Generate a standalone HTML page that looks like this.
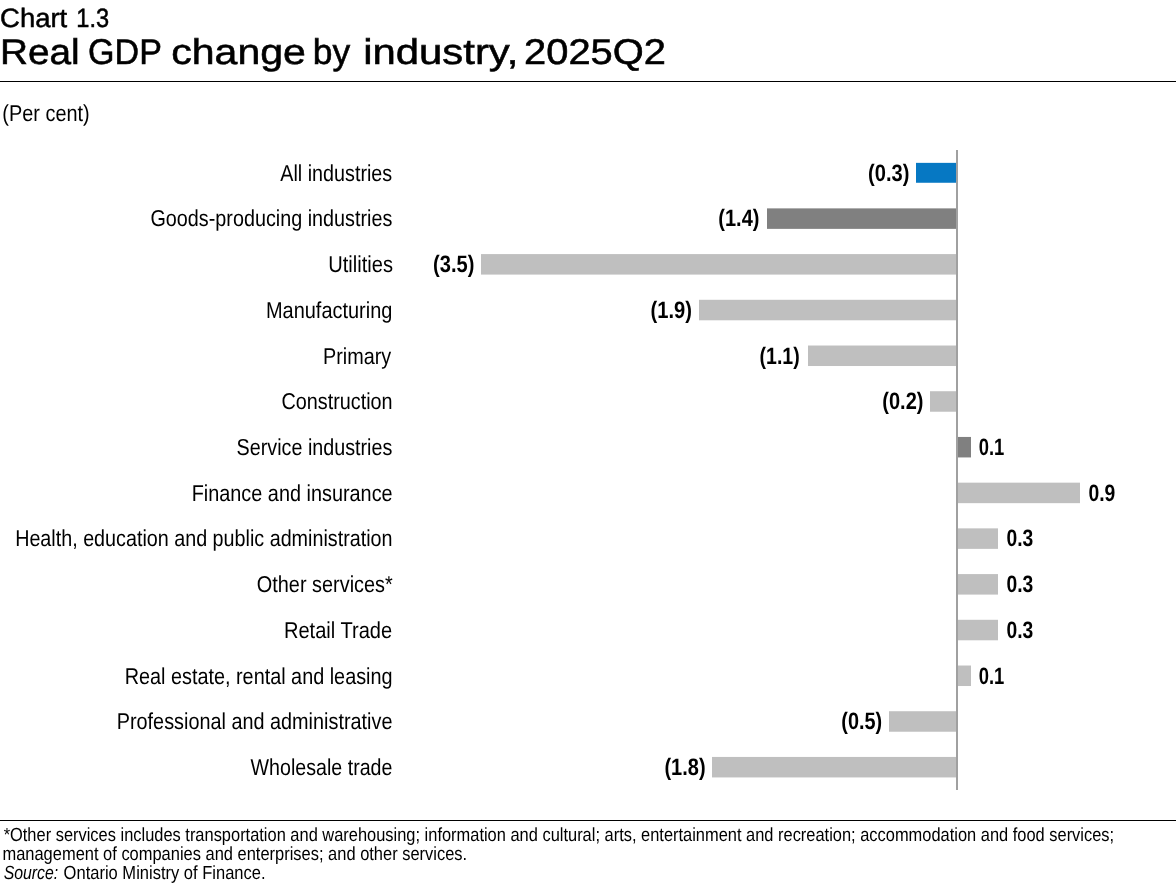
<!DOCTYPE html>
<html><head><meta charset="utf-8"><title>Chart 1.3</title>
<style>
html,body{margin:0;padding:0;background:#fff;}
body{width:1176px;height:888px;overflow:hidden;font-family:"Liberation Sans",sans-serif;}
svg{display:block;will-change:transform;}
text{font-family:"Liberation Sans",sans-serif;fill:#000;text-rendering:geometricPrecision;}
.t1{font-size:26.5px;stroke:#000;stroke-width:0.5px;}
.t2{font-size:35.7px;stroke:#000;stroke-width:0.55px;}
.c{font-size:23px;}
.v{font-size:23.8px;font-weight:bold;}
.f{font-size:19px;}
</style></head><body>
<svg width="1176" height="888" viewBox="0 0 1176 888">
<rect x="0" y="0" width="1176" height="888" fill="#fff"/>
<rect x="0" y="81" width="1176" height="1" fill="#000"/>
<rect x="0" y="820" width="1176" height="1" fill="#000"/>
<rect x="916" y="162.86" width="40" height="19.9" fill="#0678c3"/>
<rect x="767" y="208.37" width="189" height="20.5" fill="#808080"/>
<rect x="481" y="254.09" width="475" height="20.5" fill="#bfbfbf"/>
<rect x="699" y="299.80" width="257" height="20.5" fill="#bfbfbf"/>
<rect x="808" y="345.51" width="148" height="20.5" fill="#bfbfbf"/>
<rect x="930" y="391.23" width="26" height="20.5" fill="#bfbfbf"/>
<rect x="958" y="436.94" width="13" height="20.5" fill="#808080"/>
<rect x="958" y="482.66" width="122" height="20.5" fill="#bfbfbf"/>
<rect x="958" y="528.37" width="40" height="20.5" fill="#bfbfbf"/>
<rect x="958" y="574.09" width="40" height="20.5" fill="#bfbfbf"/>
<rect x="958" y="619.80" width="40" height="20.5" fill="#bfbfbf"/>
<rect x="958" y="665.51" width="13" height="20.5" fill="#bfbfbf"/>
<rect x="889" y="711.23" width="67" height="20.5" fill="#bfbfbf"/>
<rect x="712" y="756.94" width="244" height="20.5" fill="#bfbfbf"/>
<rect x="956" y="150" width="2" height="640" fill="#a0a0a0"/>
<text class="t1" x="0.06" y="26.80" textLength="67.21" lengthAdjust="spacingAndGlyphs">Chart</text>
<text class="t1" x="76.37" y="26.80" textLength="32.83" lengthAdjust="spacingAndGlyphs">1.3</text>
<text class="t2" x="-0.06" y="64.30" textLength="79.78" lengthAdjust="spacingAndGlyphs">Real</text>
<text class="t2" x="88.11" y="64.30" textLength="73.79" lengthAdjust="spacingAndGlyphs">GDP</text>
<text class="t2" x="171.21" y="64.30" textLength="134.67" lengthAdjust="spacingAndGlyphs">change</text>
<text class="t2" x="312.80" y="64.30" textLength="37.40" lengthAdjust="spacingAndGlyphs">by</text>
<text class="t2" x="363.23" y="64.30" textLength="155.12" lengthAdjust="spacingAndGlyphs">industry,</text>
<text class="t2" x="524.10" y="64.30" textLength="141.88" lengthAdjust="spacingAndGlyphs">2025Q2</text>
<text class="c" x="2.31" y="120.70" textLength="87.41" lengthAdjust="spacingAndGlyphs">(Per cent)</text>
<text class="c" x="280.23" y="180.70" textLength="111.99" lengthAdjust="spacingAndGlyphs">All industries</text>
<text class="v" x="868.10" y="180.66" textLength="41.31" lengthAdjust="spacingAndGlyphs">(0.3)</text>
<text class="c" x="150.49" y="226.41" textLength="241.79" lengthAdjust="spacingAndGlyphs">Goods-producing industries</text>
<text class="v" x="718.30" y="226.37" textLength="41.15" lengthAdjust="spacingAndGlyphs">(1.4)</text>
<text class="c" x="328.17" y="272.13" textLength="64.81" lengthAdjust="spacingAndGlyphs">Utilities</text>
<text class="v" x="433.10" y="272.09" textLength="41.31" lengthAdjust="spacingAndGlyphs">(3.5)</text>
<text class="c" x="265.95" y="317.84" textLength="126.41" lengthAdjust="spacingAndGlyphs">Manufacturing</text>
<text class="v" x="650.47" y="317.80" textLength="41.43" lengthAdjust="spacingAndGlyphs">(1.9)</text>
<text class="c" x="322.98" y="363.56" textLength="68.26" lengthAdjust="spacingAndGlyphs">Primary</text>
<text class="v" x="759.54" y="363.51" textLength="40.15" lengthAdjust="spacingAndGlyphs">(1.1)</text>
<text class="c" x="281.38" y="409.27" textLength="111.23" lengthAdjust="spacingAndGlyphs">Construction</text>
<text class="v" x="882.30" y="409.23" textLength="41.15" lengthAdjust="spacingAndGlyphs">(0.2)</text>
<text class="c" x="236.60" y="454.99" textLength="155.75" lengthAdjust="spacingAndGlyphs">Service industries</text>
<text class="v" x="978.77" y="454.94" textLength="25.58" lengthAdjust="spacingAndGlyphs">0.1</text>
<text class="c" x="191.68" y="500.70" textLength="200.96" lengthAdjust="spacingAndGlyphs">Finance and insurance</text>
<text class="v" x="1088.48" y="500.66" textLength="26.90" lengthAdjust="spacingAndGlyphs">0.9</text>
<text class="c" x="15.15" y="546.41" textLength="377.37" lengthAdjust="spacingAndGlyphs">Health, education and public administration</text>
<text class="v" x="1006.49" y="546.37" textLength="26.80" lengthAdjust="spacingAndGlyphs">0.3</text>
<text class="c" x="256.80" y="592.13" textLength="135.95" lengthAdjust="spacingAndGlyphs">Other services*</text>
<text class="v" x="1006.49" y="592.09" textLength="26.80" lengthAdjust="spacingAndGlyphs">0.3</text>
<text class="c" x="283.93" y="637.84" textLength="108.28" lengthAdjust="spacingAndGlyphs">Retail Trade</text>
<text class="v" x="1006.49" y="637.80" textLength="26.80" lengthAdjust="spacingAndGlyphs">0.3</text>
<text class="c" x="124.71" y="683.56" textLength="267.82" lengthAdjust="spacingAndGlyphs">Real estate, rental and leasing</text>
<text class="v" x="978.77" y="683.51" textLength="25.58" lengthAdjust="spacingAndGlyphs">0.1</text>
<text class="c" x="116.71" y="729.27" textLength="275.71" lengthAdjust="spacingAndGlyphs">Professional and administrative</text>
<text class="v" x="841.29" y="729.23" textLength="40.80" lengthAdjust="spacingAndGlyphs">(0.5)</text>
<text class="c" x="250.55" y="774.99" textLength="141.88" lengthAdjust="spacingAndGlyphs">Wholesale trade</text>
<text class="v" x="664.46" y="774.94" textLength="41.12" lengthAdjust="spacingAndGlyphs">(1.8)</text>
<text class="f" x="3.63" y="840.60" textLength="1110.48" lengthAdjust="spacingAndGlyphs">*Other services includes transportation and warehousing; information and cultural; arts, entertainment and recreation; accommodation and food services;</text>
<text class="f" x="2.46" y="860.00" textLength="464.71" lengthAdjust="spacingAndGlyphs">management of companies and enterprises; and other services.</text>
<text class="f" x="3.64" y="878.50" textLength="54.52" lengthAdjust="spacingAndGlyphs" font-style="italic">Source:</text>
<text class="f" x="63.61" y="878.50" textLength="201.98" lengthAdjust="spacingAndGlyphs">Ontario Ministry of Finance.</text>
</svg>
</body></html>
